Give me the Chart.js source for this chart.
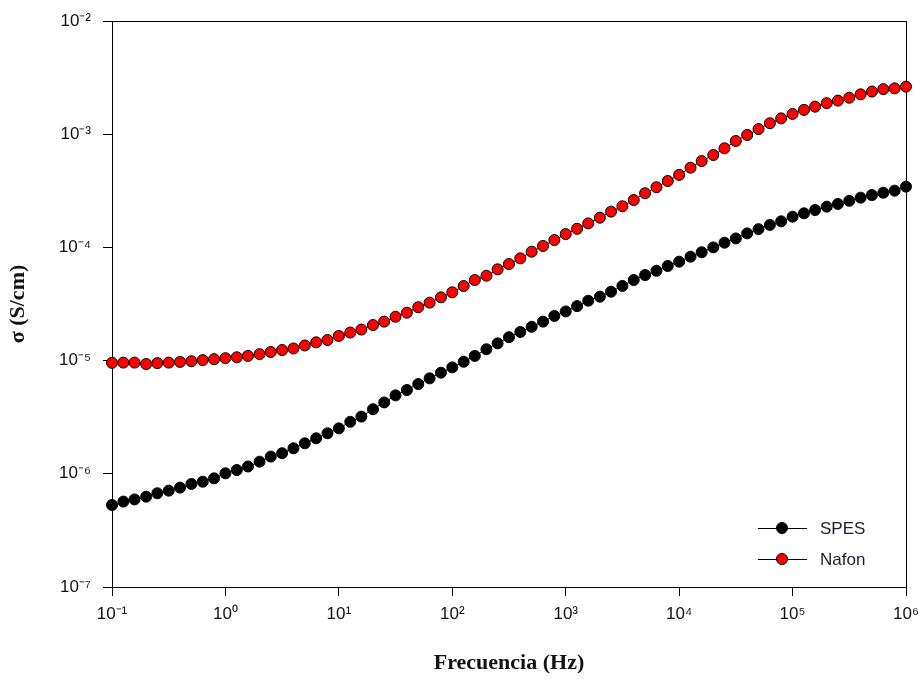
<!DOCTYPE html>
<html lang="es">
<head>
    <title>Conductividad vs frecuencia</title>
    <script src="https://cdn.jsdelivr.net/npm/chart.js@4.4.0/dist/chart.umd.min.js"></script>
    <style>
        html, body { margin: 0; padding: 0; background: #fff; }
    </style>
</head>
<body>
    <canvas id="chart" width="920" height="682"></canvas>

    <script>
        // frequency sweep (Hz), 10 points per decade
        const freqHz = [
            1e-1, 1.26e-1, 1.58e-1, 2e-1, 2.51e-1, 3.16e-1, 3.98e-1, 5.01e-1, 6.31e-1, 7.94e-1,
            1e0, 1.26e0, 1.58e0, 2e0, 2.51e0, 3.16e0, 3.98e0, 5.01e0, 6.31e0, 7.94e0,
            1e1, 1.26e1, 1.58e1, 2e1, 2.51e1, 3.16e1, 3.98e1, 5.01e1, 6.31e1, 7.94e1,
            1e2, 1.26e2, 1.58e2, 2e2, 2.51e2, 3.16e2, 3.98e2, 5.01e2, 6.31e2, 7.94e2,
            1e3, 1.26e3, 1.58e3, 2e3, 2.51e3, 3.16e3, 3.98e3, 5.01e3, 6.31e3, 7.94e3,
            1e4, 1.26e4, 1.58e4, 2e4, 2.51e4, 3.16e4, 3.98e4, 5.01e4, 6.31e4, 7.94e4,
            1e5, 1.26e5, 1.58e5, 2e5, 2.51e5, 3.16e5, 3.98e5, 5.01e5, 6.31e5, 7.94e5,
            1e6
        ];

        // conductivity (S/cm)
        const sigmaSPES = [
            5.30e-7, 5.68e-7, 5.94e-7, 6.28e-7, 6.73e-7, 7.10e-7, 7.55e-7, 8.13e-7, 8.51e-7, 9.12e-7,
            1.01e-6, 1.08e-6, 1.16e-6, 1.28e-6, 1.42e-6, 1.52e-6, 1.68e-6, 1.86e-6, 2.06e-6, 2.28e-6,
            2.52e-6, 2.88e-6, 3.20e-6, 3.72e-6, 4.27e-6, 4.93e-6, 5.50e-6, 6.21e-6, 6.97e-6, 7.82e-6,
            8.71e-6, 9.77e-6, 1.10e-5, 1.26e-5, 1.42e-5, 1.61e-5, 1.79e-5, 1.99e-5, 2.21e-5, 2.48e-5,
            2.72e-5, 3.03e-5, 3.38e-5, 3.67e-5, 4.06e-5, 4.57e-5, 5.15e-5, 5.70e-5, 6.22e-5, 6.85e-5,
            7.48e-5, 8.28e-5, 9.06e-5, 1.00e-4, 1.10e-4, 1.20e-4, 1.33e-4, 1.45e-4, 1.58e-4, 1.70e-4,
            1.87e-4, 2.00e-4, 2.14e-4, 2.29e-4, 2.42e-4, 2.58e-4, 2.75e-4, 2.90e-4, 3.04e-4, 3.17e-4,
            3.44e-4
        ];

        const sigmaNafon = [
            9.55e-6, 9.60e-6, 9.60e-6, 9.33e-6, 9.50e-6, 9.60e-6, 9.73e-6, 9.86e-6, 1.01e-5, 1.03e-5,
            1.05e-5, 1.07e-5, 1.10e-5, 1.14e-5, 1.19e-5, 1.24e-5, 1.28e-5, 1.36e-5, 1.45e-5, 1.52e-5,
            1.65e-5, 1.77e-5, 1.88e-5, 2.06e-5, 2.21e-5, 2.44e-5, 2.65e-5, 2.96e-5, 3.25e-5, 3.62e-5,
            4.01e-5, 4.56e-5, 5.15e-5, 5.62e-5, 6.40e-5, 7.13e-5, 8.00e-5, 9.16e-5, 1.03e-4, 1.16e-4,
            1.31e-4, 1.46e-4, 1.63e-4, 1.83e-4, 2.07e-4, 2.31e-4, 2.62e-4, 3.01e-4, 3.40e-4, 3.86e-4,
            4.37e-4, 5.06e-4, 5.79e-4, 6.55e-4, 7.50e-4, 8.71e-4, 9.84e-4, 1.11e-3, 1.25e-3, 1.38e-3,
            1.51e-3, 1.64e-3, 1.75e-3, 1.88e-3, 1.98e-3, 2.10e-3, 2.25e-3, 2.38e-3, 2.50e-3, 2.54e-3,
            2.63e-3
        ];

        const xTickValues = [1e-1, 1e0, 1e1, 1e2, 1e3, 1e4, 1e5, 1e6];
        const xTickLabels = ['10⁻¹', '10⁰', '10¹', '10²', '10³', '10⁴', '10⁵', '10⁶'];
        const yTickValues = [1e-7, 1e-6, 1e-5, 1e-4, 1e-3, 1e-2];
        const yTickLabels = ['10⁻⁷', '10⁻⁶', '10⁻⁵', '10⁻⁴', '10⁻³', '10⁻²'];

        const toPoints = (ys) => freqHz.map((f, i) => ({ x: f, y: ys[i] }));

        const tickFont = { family: '"Liberation Sans", Arial, sans-serif', size: 17 };
        const titleFont = { family: '"Liberation Serif", "Times New Roman", serif', size: 22, weight: 'bold' };

        // box around the plot area (top and right sides too)
        const frameBox = {
            id: 'frameBox',
            beforeDatasetsDraw(chart) {
                const { ctx, chartArea: a } = chart;
                ctx.save();
                ctx.strokeStyle = '#000';
                ctx.lineWidth = 1;
                ctx.strokeRect(a.left + 0.5, a.top + 0.5, a.right - a.left, a.bottom - a.top);
                ctx.restore();
            }
        };

        // legend sitting inside the lower right corner
        const insideLegend = {
            id: 'insideLegend',
            afterDatasetsDraw(chart) {
                const { ctx, chartArea: a } = chart;
                ctx.save();
                chart.data.datasets.forEach((ds, i) => {
                    const y = a.bottom - 59 + i * 31;
                    const x0 = a.right - 148;
                    ctx.strokeStyle = '#000';
                    ctx.lineWidth = 1;
                    ctx.beginPath();
                    ctx.moveTo(x0, y + 0.5);
                    ctx.lineTo(x0 + 49, y + 0.5);
                    ctx.stroke();
                    ctx.beginPath();
                    ctx.arc(x0 + 24, y, 5.5, 0, Math.PI * 2);
                    ctx.fillStyle = ds.pointBackgroundColor;
                    ctx.fill();
                    ctx.stroke();
                    ctx.fillStyle = '#1c1c30';
                    ctx.font = '17px "Liberation Sans", Arial, sans-serif';
                    ctx.textBaseline = 'middle';
                    ctx.fillText(ds.label, x0 + 62, y + 1);
                });
                ctx.restore();
            }
        };

        const chart = new Chart(document.getElementById('chart').getContext('2d'), {
            type: 'scatter',
            data: {
                datasets: [
                    {
                        label: 'SPES',
                        data: toPoints(sigmaSPES),
                        showLine: true,
                        borderColor: '#000',
                        borderWidth: 1,
                        pointBackgroundColor: '#000',
                        pointBorderColor: '#000',
                        pointBorderWidth: 1,
                        pointRadius: 5.5,
                        clip: false
                    },
                    {
                        label: 'Nafon',
                        data: toPoints(sigmaNafon),
                        showLine: true,
                        borderColor: '#000',
                        borderWidth: 1,
                        pointBackgroundColor: '#ff0000',
                        pointBorderColor: '#000',
                        pointBorderWidth: 1,
                        pointRadius: 5.5,
                        clip: false
                    }
                ]
            },
            options: {
                responsive: false,
                animation: false,
                devicePixelRatio: 1,
                layout: { padding: { top: 21, right: 14, bottom: 0, left: 0 } },
                plugins: {
                    legend: { display: false },
                    tooltip: { enabled: false }
                },
                scales: {
                    x: {
                        type: 'logarithmic',
                        min: 1e-1,
                        max: 1e6,
                        afterBuildTicks: (s) => { s.ticks = xTickValues.map(v => ({ value: v })); },
                        afterFit: (s) => { s.height = 95; s.paddingRight = 0; s.paddingLeft = 0; },
                        grid: { display: true, drawOnChartArea: false, drawTicks: true, tickLength: 9, color: '#000' },
                        border: { display: true, color: '#000', width: 1 },
                        ticks: {
                            autoSkip: false,
                            maxRotation: 0,
                            padding: 8,
                            color: '#111',
                            font: tickFont,
                            callback: (v) => xTickLabels[xTickValues.indexOf(v)]
                        },
                        title: {
                            display: true,
                            text: 'Frecuencia (Hz)',
                            color: '#111',
                            font: titleFont,
                            padding: { top: 0, bottom: 5 }
                        }
                    },
                    y: {
                        type: 'logarithmic',
                        min: 1e-7,
                        max: 1e-2,
                        afterBuildTicks: (s) => { s.ticks = yTickValues.map(v => ({ value: v })); },
                        afterFit: (s) => { s.width = 112; s.paddingTop = 0; s.paddingBottom = 0; },
                        grid: { display: true, drawOnChartArea: false, drawTicks: true, tickLength: 9, color: '#000' },
                        border: { display: true, color: '#000', width: 1 },
                        ticks: {
                            autoSkip: false,
                            padding: 12,
                            color: '#111',
                            font: tickFont,
                            callback: (v) => yTickLabels[yTickValues.indexOf(v)]
                        },
                        title: {
                            display: true,
                            text: 'σ (S/cm)',
                            color: '#111',
                            font: titleFont,
                            padding: { top: 5, bottom: 0 }
                        }
                    }
                }
            },
            plugins: [frameBox, insideLegend]
        });
    </script>
</body>
</html>
